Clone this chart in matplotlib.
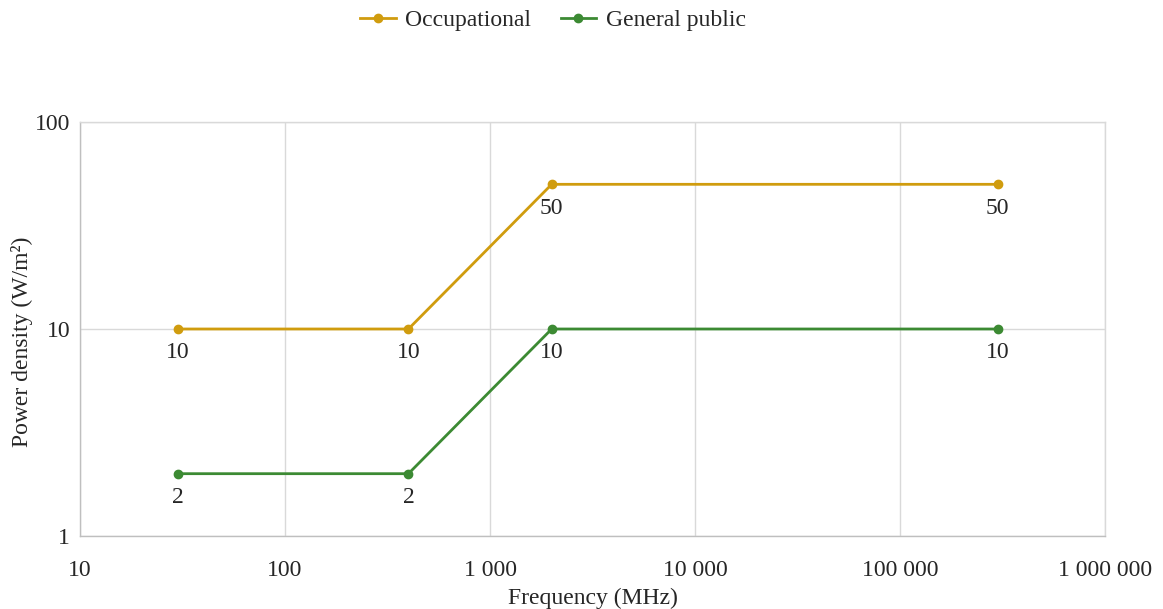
import matplotlib
matplotlib.use("Agg")
import matplotlib.pyplot as plt
from matplotlib.ticker import FixedLocator, FuncFormatter, NullLocator

plt.rcParams['font.family'] = ['Liberation Serif', 'DejaVu Serif']

freq = [30, 400, 2000, 300000]
occupational = [10, 10, 50, 50]
general_public = [2, 2, 10, 10]
series_names = ["Occupational", "General public"]
x_ticks = [10, 100, 1000, 10000, 100000, 1000000]
y_ticks = [1, 10, 100]

c_occ = "#D09C0E"
c_gen = "#3C8A33"
text_c = "#262626"
grid_c = "#D9D9D9"
FS = 17

fig = plt.figure(figsize=(11.63, 6.09), dpi=100)
ax = fig.add_axes([80/1163, 1-536/609, (1105-80)/1163, (536-122)/609])

ax.plot(freq, occupational, color=c_occ, lw=2, marker='o', ms=6, label=series_names[0], zorder=3)
ax.plot(freq, general_public, color=c_gen, lw=2, marker='o', ms=6, label=series_names[1], zorder=3)

for x, y in zip(freq, occupational):
    ax.annotate(f"{y:g}", (x, y), xytext=(0, -9.5), textcoords='offset points',
                ha='center', va='top', fontsize=FS, color=text_c)
for x, y in zip(freq, general_public):
    ax.annotate(f"{y:g}", (x, y), xytext=(0, -9.5), textcoords='offset points',
                ha='center', va='top', fontsize=FS, color=text_c)

ax.set_xscale('log')
ax.set_yscale('log')
ax.set_xlim(10, 1000000)
ax.set_ylim(1, 100)

def fmt(v, pos):
    return f"{int(round(v)):,}".replace(",", " ")

ax.xaxis.set_major_locator(FixedLocator(x_ticks))
ax.yaxis.set_major_locator(FixedLocator(y_ticks))
ax.xaxis.set_minor_locator(NullLocator())
ax.yaxis.set_minor_locator(NullLocator())
ax.xaxis.set_major_formatter(FuncFormatter(fmt))
ax.yaxis.set_major_formatter(FuncFormatter(fmt))
ax.tick_params(axis='x', length=0, pad=17, labelsize=FS, colors=text_c)
ax.tick_params(axis='y', length=0, pad=7, labelsize=FS, colors=text_c)

ax.grid(True, color=grid_c, lw=1, zorder=0)
for s in ax.spines.values():
    s.set_color(grid_c)
    s.set_linewidth(1)
ax.spines['left'].set_color("#BFBFBF")
ax.spines['bottom'].set_color("#BFBFBF")

ax.set_xlabel("Frequency (MHz)", fontsize=FS, color=text_c)
ax.xaxis.set_label_coords(0.5, -(598-536)/(536-122), transform=ax.transAxes)
ax.xaxis.label.set_va('center')
ax.set_ylabel("Power density (W/m²)", fontsize=FS, color=text_c)
ax.yaxis.set_label_coords(-(80-22)/(1105-80), (536-342)/(536-122), transform=ax.transAxes)
ax.yaxis.label.set_va('center')

fig.legend(loc='upper center', bbox_to_anchor=(553/1163, 1.019), ncol=2, frameon=False,
           fontsize=FS, handlelength=1.5, handletextpad=0.4, columnspacing=1.25, labelcolor=text_c)

fig.savefig("out.png", dpi=100)
